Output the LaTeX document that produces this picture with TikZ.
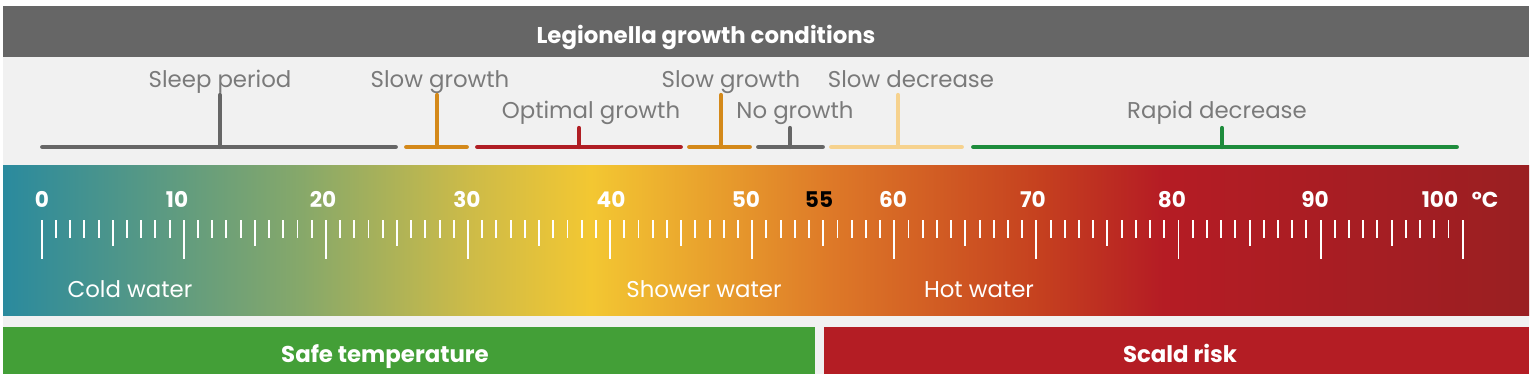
\documentclass[tikz,border=0pt]{standalone}
\usepackage{fontspec}
\setmainfont{Poppins}
\usepackage{tikz}
\usetikzlibrary{positioning}

\definecolor{headgrey}{HTML}{666666}
\definecolor{panelgrey}{HTML}{F1F1F1}
\definecolor{labelgrey}{HTML}{7A7A7A}
\definecolor{barslate}{HTML}{666666}
\definecolor{barorange}{HTML}{D4891A}
\definecolor{barred}{HTML}{B01E24}
\definecolor{barsand}{HTML}{F6D28E}
\definecolor{bargreen}{HTML}{1E8C3C}
\definecolor{safegreen}{HTML}{439F37}
\definecolor{scaldred}{HTML}{B41D24}

\pgfdeclarehorizontalshading{tempscale}{100bp}{%
  color(0bp)=(rgb,255:red,42;green,138;blue,158);
  color(25bp)=(rgb,255:red,42;green,138;blue,158);
  color(34.75bp)=(rgb,255:red,134;green,168;blue,106);
  color(40.3bp)=(rgb,255:red,205;green,187;blue,72);
  color(44.25bp)=(rgb,255:red,243;green,199;blue,50);
  color(52bp)=(rgb,255:red,222;green,122;blue,40);
  color(59bp)=(rgb,255:red,197;green,64;blue,31);
  color(63bp)=(rgb,255:red,181;green,28;blue,36);
  color(75bp)=(rgb,255:red,154;green,31;blue,34);
  color(100bp)=(rgb,255:red,154;green,31;blue,34)}

\tikzstyle{rangebar} = [line width=2.8pt, line cap=round]
\tikzstyle{stem} = [line width=2.4pt, line cap=round]
\tikzstyle{phase} = [text=labelgrey, font=\fontsize{13}{13}\selectfont, inner sep=0pt, anchor=base]
\tikzstyle{deg} = [text=white, font=\bfseries\fontsize{12.3}{12.3}\selectfont, inner sep=0pt, anchor=base]
\tikzstyle{water} = [text=white, font=\fontsize{13}{13}\selectfont, inner sep=0pt, anchor=base]
\tikzstyle{band} = [text=white, font=\bfseries\fontsize{13}{13}\selectfont, inner sep=0pt, anchor=base]
\tikzstyle{tick} = [white, line width=1.1pt]

\begin{document}
\begin{tikzpicture}[x=0.02cm, y=-0.02cm]
        \useasboundingbox[fill=white] (0,0) rectangle (1536,382);

        % panels
        \fill[panelgrey] (3,57) rectangle (1529,374);
        \fill[headgrey]  (3,6)  rectangle (1529,57);
        \shade[shading=tempscale] (3,165) rectangle (1529,315);
        \fill[safegreen] (3,327)   rectangle (815,374);
        \fill[scaldred]  (824,327) rectangle (1529,374);

        \node[band] (title) at (706,43) {Legionella growth conditions};

        % growth phases
        \node[phase] (sleep)    at (220,87)   {Sleep period};
        \node[phase] (slow1)    at (440,87)   {Slow growth};
        \node[phase] (optimal)  at (591,118)  {Optimal growth};
        \node[phase] (slow2)    at (731,87)   {Slow growth};
        \node[phase] (nogrowth) at (795,118)  {No growth};
        \node[phase] (slowdec)  at (911,87)   {Slow decrease};
        \node[phase] (rapid)    at (1217,118) {Rapid decrease};

        \foreach \a/\b/\m/\top/\col in {42.5/395.5/220/95/barslate, 406.5/466.5/437/95/barorange,
                477.5/680.5/579/128/barred, 689.5/749.5/721/95/barorange, 758.5/822.5/790/128/barslate,
                831.5/961.5/898/95/barsand, 973.5/1456.5/1222/128/bargreen}
        {
            \draw[rangebar, \col] (\a,147) -- (\b,147);
            \draw[stem, \col] (\m,147) -- (\m,\top);
        }

        % scale
        \foreach \t in {0,...,100}
            \draw[tick] ({41.7+14.21*\t},220) -- ({41.7+14.21*\t},238);
        \foreach \t in {0,5,...,100}
            \draw[tick] ({41.7+14.21*\t},220) -- ({41.7+14.21*\t},246);
        \foreach \t in {0,10,...,100}
            \draw[tick] ({41.7+14.21*\t},220) -- ({41.7+14.21*\t},259);
        \foreach \t/\x in {0/42, 10/177, 20/323, 30/467, 40/611, 50/746,
                60/893, 70/1033, 80/1172, 90/1315, 100/1440}
            \node[deg] (t\t) at (\x,207) {\t};
        \node[deg, text=black] (t55) at (819,207) {55};
        \node[deg] (unit) at (1485,207) {°C};

        \node[water] (cold)   at (130,297) {Cold water};
        \node[water] (shower) at (704,297) {Shower water};
        \node[water] (hot)    at (979,297) {Hot water};

        \node[band] (safe)  at (385,362)  {Safe temperature};
        \node[band] (scald) at (1180,362) {Scald risk};
    \end{tikzpicture}
\end{document}
